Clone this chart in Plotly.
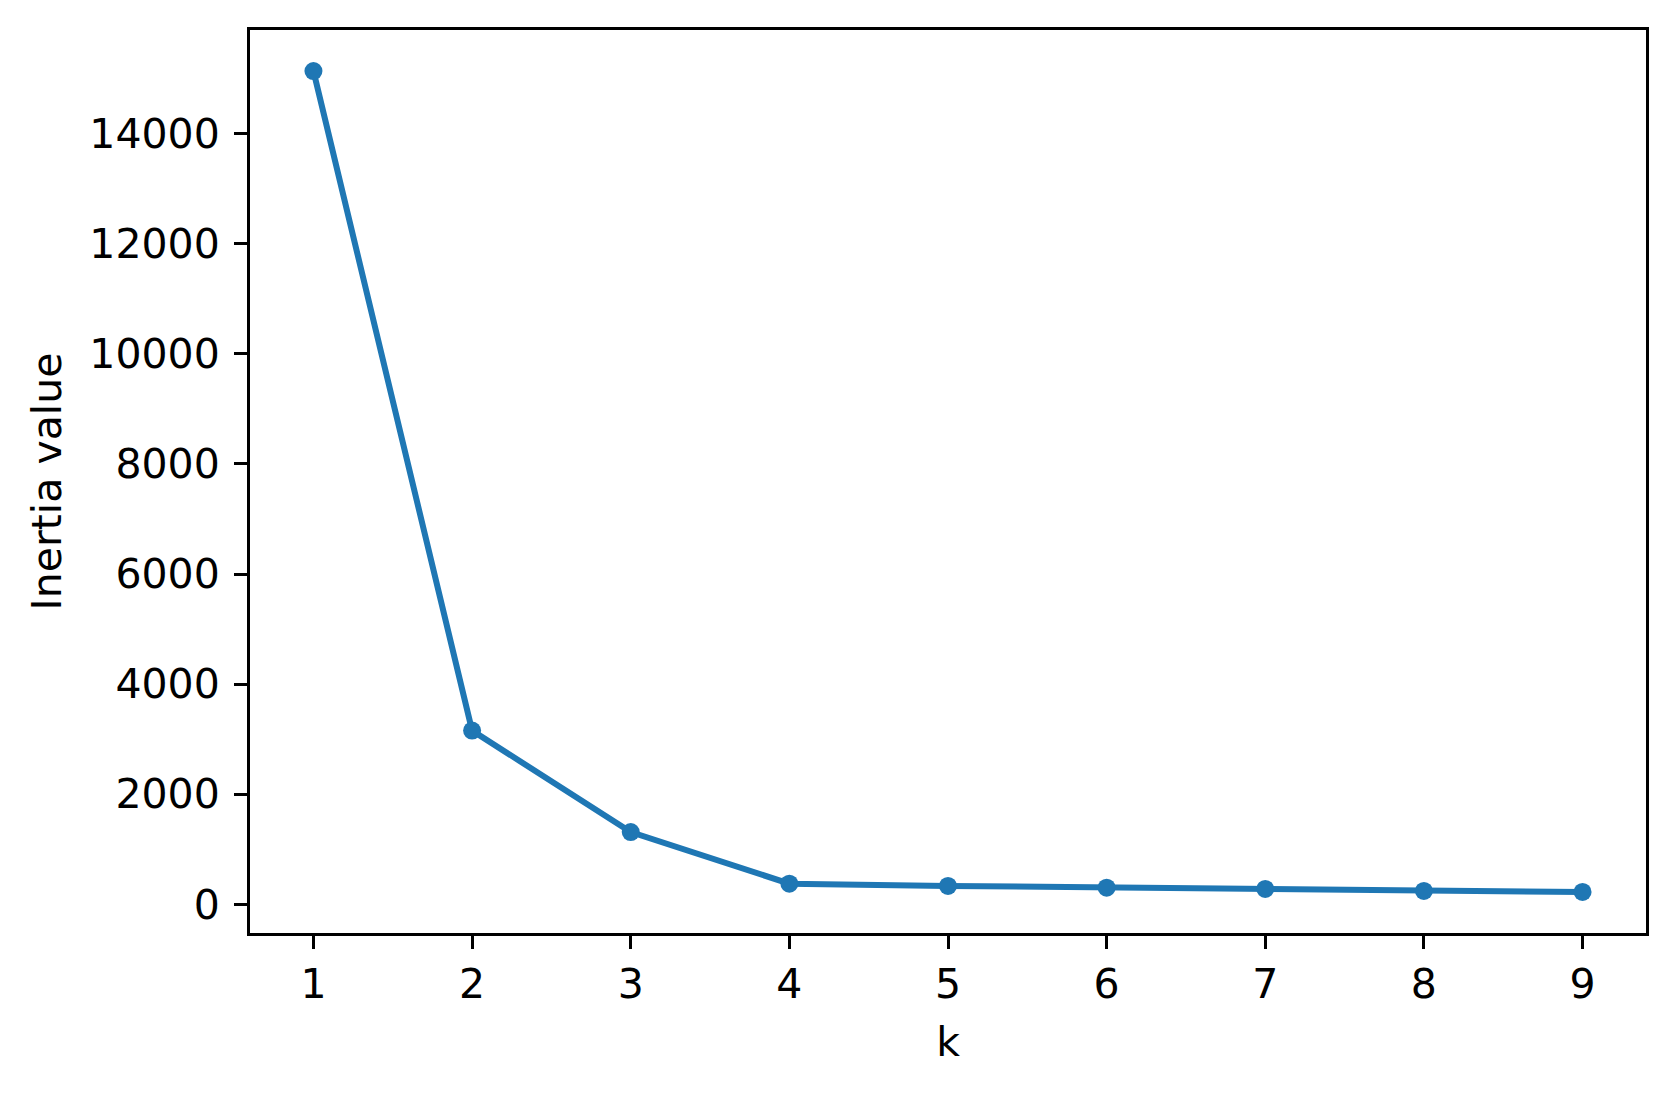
import plotly.graph_objects as go

# elbow curve: inertia for each number of clusters
k_values = [1, 2, 3, 4, 5, 6, 7, 8, 9]
inertia = [15140, 3155, 1310, 373, 331, 300, 277, 240, 222]
y_ticks = [0, 2000, 4000, 6000, 8000, 10000, 12000, 14000]

# matplotlib-like 5% margins
x_pad = (max(k_values) - min(k_values)) * 0.05
y_pad = (max(inertia) - min(inertia)) * 0.05

FONT = dict(family="DejaVu Sans", size=41, color="black")

fig = go.Figure()
fig.add_trace(go.Scatter(
    x=k_values, y=inertia, mode="lines+markers",
    line=dict(color="#1f77b4", width=6),
    marker=dict(color="#1f77b4", size=18),
    showlegend=False,
))

axis_common = dict(
    showline=True, linecolor="black", linewidth=3, mirror=True,
    showgrid=False, zeroline=False,
    ticks="outside", ticklen=13, tickwidth=3, tickcolor="black",
    tickfont=FONT,
)

fig.update_xaxes(
    range=[min(k_values) - x_pad, max(k_values) + x_pad],
    tickvals=k_values, ticklabelstandoff=0,
    title=dict(text="k", font=FONT, standoff=21),
    **axis_common,
)
fig.update_yaxes(
    range=[min(inertia) - y_pad, max(inertia) + y_pad],
    tickvals=y_ticks, tickformat="d", ticklabelstandoff=6,
    title=dict(text="Inertia value", font=FONT, standoff=16),
    **axis_common,
)

# page body adds ~8px offset, margins compensate for it
fig.update_layout(
    width=1675, height=1095,
    margin=dict(l=242, r=37, t=22, b=170),
    paper_bgcolor="white", plot_bgcolor="white",
)

fig.write_html("out.html")
